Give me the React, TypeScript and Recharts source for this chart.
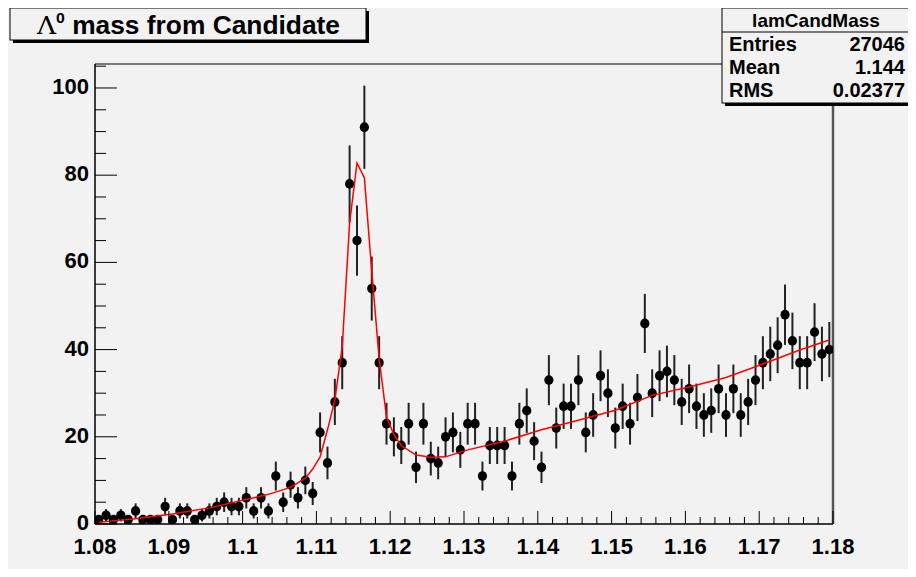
import React from "react";
import {
  ComposedChart,
  Scatter,
  XAxis,
  YAxis,
  ErrorBar,
  ReferenceArea,
  ReferenceLine,
} from "recharts";

// histogram: 100 bins from 1.08 to 1.18
const binLow = 1.08;
const binWidth = 0.001;
const counts = [
  1, 2, 1, 2, 1, 3, 1, 1, 1, 4,
  1, 3, 3, 1, 2, 3, 4, 5, 4, 4,
  6, 3, 6, 3, 11, 5, 9, 6, 10, 7,
  21, 14, 28, 37, 78, 65, 91, 54, 37, 23,
  20, 18, 23, 13, 23, 15, 14, 20, 21, 17,
  23, 23, 11, 18, 18, 18, 11, 23, 26, 19,
  13, 33, 22, 27, 27, 33, 21, 25, 34, 30,
  22, 27, 23, 29, 46, 30, 34, 35, 33, 28,
  31, 27, 25, 26, 31, 25, 31, 25, 28, 33,
  37, 39, 41, 48, 42, 37, 37, 44, 39, 40,
];

// fit curve
const fitMass = [
  1.0805, 1.0855, 1.0905, 1.0955, 1.1005, 1.1035, 1.1065, 1.1085, 1.1095,
  1.1105, 1.1115, 1.1125, 1.1135, 1.1145, 1.1155, 1.1165, 1.1175, 1.1185,
  1.1195, 1.1205, 1.1215, 1.1235, 1.1255, 1.1275, 1.1305, 1.1355, 1.1405,
  1.1455, 1.1505, 1.1555, 1.1605, 1.1655, 1.1705, 1.1755, 1.1795,
];
const fitValue = [
  0.4, 1.2, 2.3, 3.7, 5.6, 6.8, 8.4, 10.5, 12.6,
  15.4, 21.6, 28.4, 40.7, 69, 82.8, 79.4, 58, 38,
  24.5, 20.5, 18, 15.8, 15.3, 15.4, 17, 19, 21.6,
  23.8, 26.1, 29.5, 31.4, 33.6, 36.7, 39.9, 42.2,
];

const xMajorTicks = [1.08, 1.09, 1.1, 1.11, 1.12, 1.13, 1.14, 1.15, 1.16, 1.17, 1.18];
const yMajorTicks = [0, 20, 40, 60, 80, 100];
const yMax = 105.5;

const title = "mass from Candidate";
const statsName = "lamCandMass";
const statsLabels = ["Entries", "Mean", "RMS"];
const statsValues = ["27046", "1.144", "0.02377"];

const histData = counts.map((c, i) => ({
  x: +(binLow + (i + 0.5) * binWidth).toFixed(4),
  y: c,
  err: Math.sqrt(c),
}));
const fitData = fitMass.map((m, i) => ({ x: m, y: fitValue[i] }));

const xTicks: number[] = [];
for (let k = 0; k <= 50; k++) xTicks.push(+(1.08 + k * 0.002).toFixed(3));
const yTicks: number[] = [];
for (let v = 0; v <= 105; v += 5) yTicks.push(v);

const bg = "#f2f2f2";
const font = "'Liberation Sans', Arial, Helvetica, sans-serif";

function XTick({ x, y, payload }: any) {
  const v = payload.value;
  const major = xMajorTicks.some((t) => Math.abs(t - v) < 1e-6);
  return (
    <g>
      <line x1={x} x2={x} y1={y} y2={y - (major ? 13 : 7)} stroke="#000" strokeWidth={1} />
      {major && (
        <text x={x} y={y + 30} textAnchor="middle" fontSize={22} fontWeight="bold" fontFamily={font} fill="#000">
          {String(+v.toFixed(2))}
        </text>
      )}
    </g>
  );
}

function YTick({ x, y, payload }: any) {
  const v = payload.value;
  const major = yMajorTicks.includes(v);
  return (
    <g>
      <line x1={x} x2={x + (major ? 22 : 11)} y1={y} y2={y} stroke="#000" strokeWidth={1} />
      {major && (
        <text x={x - 6} y={y + 6} textAnchor="end" fontSize={22} fontWeight="bold" fontFamily={font} fill="#000">
          {v}
        </text>
      )}
    </g>
  );
}

const Dot = ({ cx, cy }: any) => <ellipse cx={cx} cy={cy} rx={4.6} ry={4.9} fill="#000" />;
const NoDot = () => <g />;

function Overlay() {
  return (
    <svg width={916} height={577} style={{ position: "absolute", left: 0, top: 0, pointerEvents: "none" }}>
      {/* title box */}
      <rect x={13} y={11} width={356} height={32} fill="#000" />
      <rect x={10} y={8} width={356} height={32} fill={bg} stroke="#000" strokeWidth={1} />
      <text
        x={37}
        y={34}
        fontSize={25}
        fontWeight="bold"
        fontFamily={font}
        fill="#000"
        textLength={303}
        lengthAdjust="spacingAndGlyphs"
      >
        <tspan fontWeight="normal" fontFamily="'DejaVu Serif', serif">Λ</tspan>
        <tspan dy={-11} fontSize={15}>0</tspan>
        <tspan dy={11}> {title}</tspan>
      </text>
      {/* stats box */}
      <rect x={725} y={11} width={188} height={95} fill="#000" />
      <rect x={722} y={8} width={188} height={95} fill={bg} stroke="#000" strokeWidth={1} />
      <line x1={722} x2={910} y1={32} y2={32} stroke="#000" />
      <text x={816} y={27} textAnchor="middle" fontSize={19} fontWeight="bold" fontFamily={font}>
        {statsName}
      </text>
      {statsLabels.map((l, i) => (
        <g key={l}>
          <text x={729} y={51 + i * 23} fontSize={20} fontWeight="bold" fontFamily={font}>
            {l}
          </text>
          <text x={905} y={51 + i * 23} textAnchor="end" fontSize={20} fontWeight="bold" fontFamily={font}>
            {statsValues[i]}
          </text>
        </g>
      ))}
    </svg>
  );
}

export default function App() {
  return (
    <div style={{ position: "relative", margin: -8, width: 916, height: 577, background: bg }}>
      <ComposedChart width={916} height={577} margin={{ top: 64, right: 83, bottom: 13, left: 35 }}>
        <XAxis
          type="number"
          dataKey="x"
          domain={[1.08, 1.18]}
          ticks={xTicks}
          interval={0}
          tickSize={0}
          tickMargin={0}
          height={40}
          tick={<XTick />}
          axisLine={{ stroke: "#000" }}
          allowDataOverflow
        />
        <YAxis
          type="number"
          dataKey="y"
          domain={[0, yMax]}
          ticks={yTicks}
          interval={0}
          tickSize={0}
          tickMargin={0}
          width={60}
          tick={<YTick />}
          axisLine={{ stroke: "#000" }}
          allowDataOverflow
        />
        <ReferenceArea x1={1.08} x2={1.18} y1={0} y2={yMax} fill="none" stroke="#000" strokeWidth={1} />
        <ReferenceLine x={1.18} stroke="#555" strokeWidth={2.5} />
        <Scatter data={histData} dataKey="y" shape={<Dot />} isAnimationActive={false}>
          <ErrorBar dataKey="err" direction="y" width={0} stroke="#222" strokeWidth={2} />
        </Scatter>
        <Scatter
          data={fitData}
          dataKey="y"
          line={{ stroke: "#ff0000", strokeWidth: 1.5 }}
          shape={<NoDot />}
          isAnimationActive={false}
        />
      </ComposedChart>
      <Overlay />
    </div>
  );
}
